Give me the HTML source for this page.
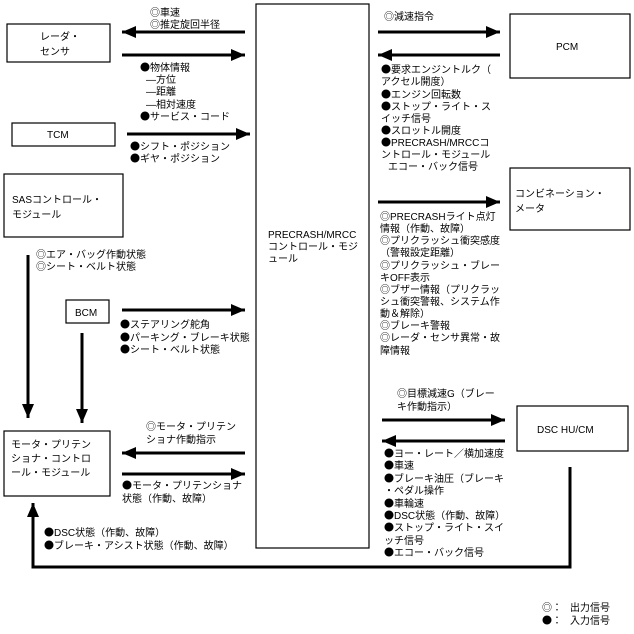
<!DOCTYPE html>
<html><head><meta charset="utf-8"><style>
html,body{margin:0;padding:0;background:#fff;}
svg{display:block;}
text{font-family:"Liberation Sans","Noto Sans CJK JP",sans-serif;font-size:10px;fill:#000;}
.d{font-family:"Noto Sans CJK JP",sans-serif;}
.b{fill:#fff;stroke:#000;stroke-width:1.2;}
.l{stroke:#000;stroke-width:3;fill:none;}
</style></head><body>
<svg width="634" height="634" viewBox="0 0 634 634" xmlns="http://www.w3.org/2000/svg">
<defs>
<marker id="a" markerWidth="14" markerHeight="12" refX="14" refY="6" orient="auto" markerUnits="userSpaceOnUse">
<path d="M0,0 L14,6 L0,12 Z" fill="#000"/></marker>
</defs>
<rect class="b" x="256" y="4" width="113" height="544"/>
<rect class="b" x="7" y="24" width="103" height="38"/>
<rect class="b" x="12" y="123" width="103" height="23"/>
<rect class="b" x="4" y="174" width="119" height="63"/>
<rect class="b" x="66" y="300" width="43" height="23"/>
<rect class="b" x="4" y="431" width="106" height="65"/>
<rect class="b" x="510" y="14" width="120" height="64"/>
<rect class="b" x="510" y="168" width="120" height="62"/>
<rect class="b" x="517" y="406" width="111" height="45"/>
<text x="40" y="40">レーダ・</text><text x="40" y="55">センサ</text>
<text x="47" y="138">TCM</text>
<text x="12" y="203">SASコントロール・</text><text x="12" y="218">モジュール</text>
<text x="75" y="316">BCM</text>
<text x="11" y="448">モータ・プリテン</text><text x="11" y="462">ショナ・コントロ</text><text x="11" y="476">ール・モジュール</text>
<text x="556" y="50">PCM</text>
<text x="515" y="197">コンビネーション・</text><text x="515" y="212">メータ</text>
<text x="537" y="433">DSC HU/CM</text>
<text x="268" y="238">PRECRASH/MRCC</text><text x="268" y="250">コントロール・モジ</text><text x="268" y="262">ュール</text>
<line class="l" x1="245" y1="32" x2="122" y2="32" marker-end="url(#a)"/>
<line class="l" x1="122" y1="55" x2="245" y2="55" marker-end="url(#a)"/>
<line class="l" x1="127" y1="134" x2="250" y2="134" marker-end="url(#a)"/>
<line class="l" x1="122" y1="310" x2="245" y2="310" marker-end="url(#a)"/>
<line class="l" x1="28" y1="255" x2="28" y2="418" marker-end="url(#a)"/>
<line class="l" x1="82" y1="333" x2="82" y2="423" marker-end="url(#a)"/>
<line class="l" x1="245" y1="453" x2="122" y2="453" marker-end="url(#a)"/>
<line class="l" x1="122" y1="474" x2="245" y2="474" marker-end="url(#a)"/>
<polyline class="l" points="570,467 570,567 33,567 33,503" marker-end="url(#a)"/>
<line class="l" x1="378" y1="32" x2="500" y2="32" marker-end="url(#a)"/>
<line class="l" x1="500" y1="55" x2="378" y2="55" marker-end="url(#a)"/>
<line class="l" x1="378" y1="202" x2="500" y2="202" marker-end="url(#a)"/>
<line class="l" x1="382" y1="420" x2="505" y2="420" marker-end="url(#a)"/>
<line class="l" x1="505" y1="441" x2="382" y2="441" marker-end="url(#a)"/>
<text x="150" y="16">◎車速</text><text x="150" y="28">◎推定旋回半径</text>
<text x="140" y="71"><tspan class="d">●</tspan>物体情報</text><text x="146" y="83">—方位</text><text x="146" y="95">—距離</text><text x="146" y="108">—相対速度</text><text x="140" y="120"><tspan class="d">●</tspan>サービス・コード</text>
<text x="130" y="150"><tspan class="d">●</tspan>シフト・ポジション</text><text x="130" y="162"><tspan class="d">●</tspan>ギヤ・ポジション</text>
<text x="36" y="258">◎エア・バッグ作動状態</text><text x="36" y="270">◎シート・ベルト状態</text>
<text x="120" y="328"><tspan class="d">●</tspan>ステアリング舵角</text><text x="120" y="341"><tspan class="d">●</tspan>パーキング・ブレーキ状態</text><text x="120" y="353"><tspan class="d">●</tspan>シート・ベルト状態</text>
<text x="146" y="430">◎モータ・プリテン</text><text x="146" y="443">ショナ作動指示</text>
<text x="122" y="489"><tspan class="d">●</tspan>モータ・プリテンショナ</text><text x="122" y="502">状態（作動、故障）</text>
<text x="44" y="536"><tspan class="d">●</tspan>DSC状態（作動、故障）</text><text x="44" y="549"><tspan class="d">●</tspan>ブレーキ・アシスト状態（作動、故障）</text>
<text x="384" y="20">◎減速指令</text>
<text x="381" y="73"><tspan class="d">●</tspan>要求エンジントルク（</text><text x="381" y="85">アクセル開度）</text><text x="381" y="98"><tspan class="d">●</tspan>エンジン回転数</text><text x="381" y="110"><tspan class="d">●</tspan>ストップ・ライト・ス</text><text x="381" y="122">イッチ信号</text><text x="381" y="134"><tspan class="d">●</tspan>スロットル開度</text><text x="381" y="146"><tspan class="d">●</tspan>PRECRASH/MRCCコ</text><text x="381" y="158">ントロール・モジュール</text><text x="388" y="170">エコー・バック信号</text>
<text x="380" y="220">◎PRECRASHライト点灯</text><text x="380" y="232">情報（作動、故障）</text><text x="380" y="244">◎プリクラッシュ衝突感度</text><text x="380" y="256">（警報設定距離）</text><text x="380" y="269">◎プリクラッシュ・ブレー</text><text x="380" y="281">キOFF表示</text><text x="380" y="293">◎ブザー情報（プリクラッ</text><text x="380" y="305">シュ衝突警報、システム作</text><text x="380" y="317">動＆解除）</text><text x="380" y="329">◎ブレーキ警報</text><text x="380" y="341">◎レーダ・センサ異常・故</text><text x="380" y="354">障情報</text>
<text x="397" y="397">◎目標減速G（ブレー</text><text x="397" y="410">キ作動指示）</text>
<text x="384" y="457"><tspan class="d">●</tspan>ヨー・レート／横加速度</text><text x="384" y="469"><tspan class="d">●</tspan>車速</text><text x="384" y="482"><tspan class="d">●</tspan>ブレーキ油圧（ブレーキ</text><text x="384" y="494">・ペダル操作</text><text x="384" y="507"><tspan class="d">●</tspan>車輪速</text><text x="384" y="519"><tspan class="d">●</tspan>DSC状態（作動、故障）</text><text x="384" y="531"><tspan class="d">●</tspan>ストップ・ライト・スイ</text><text x="384" y="544">ッチ信号</text><text x="384" y="556"><tspan class="d">●</tspan>エコー・バック信号</text>
<text x="542" y="611">◎：</text><text x="570" y="611">出力信号</text>
<text x="542" y="624"><tspan class="d">●</tspan>：</text><text x="570" y="624">入力信号</text>
</svg>
</body></html>
